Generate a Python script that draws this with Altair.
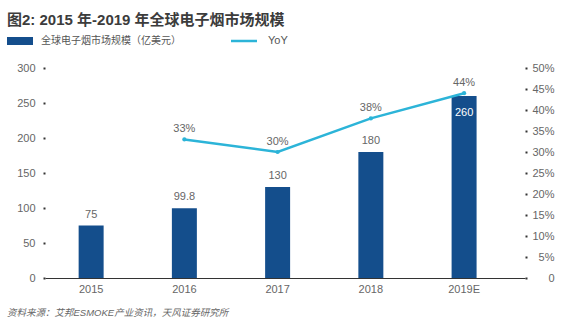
import altair as alt
import pandas as pd

years = ["2015", "2016", "2017", "2018", "2019E"]
market = [75, 99.8, 130, 180, 260]
yoy = [None, 0.33, 0.30, 0.38, 0.44]
bar_labels = ["75", "99.8", "130", "180", "260"]
yoy_labels = ["", "33%", "30%", "38%", "44%"]
left_ticks = [0, 50, 100, 150, 200, 250, 300]
right_ticks = [0, 0.05, 0.1, 0.15, 0.2, 0.25, 0.3, 0.35, 0.4, 0.45, 0.5]

df = pd.DataFrame({"year": years, "market": market, "yoy": yoy,
                   "blab": bar_labels, "ylab": yoy_labels})
df["inside"] = [False, False, False, False, True]

FONT = "Liberation Sans, Noto Sans CJK SC"
CJK = "Noto Sans CJK SC"
BAR = "#144e8c"
LINE = "#2cb4d8"
GRAY = "#666666"

xscale = alt.Scale(domain=years, paddingInner=0.732, paddingOuter=0.44, align=0.41)
xaxis = alt.Axis(title=None, labelAngle=0, ticks=False, domain=True,
                 domainColor="#333333", domainWidth=1, labelColor=GRAY,
                 labelFontSize=11, labelFont=FONT, labelPadding=5)
xenc = alt.X("year:N", scale=xscale, sort=years, axis=xaxis)

yleft = alt.Scale(domain=[0, 300], nice=False)
yright = alt.Scale(domain=[0, 0.5], nice=False)
laxis = alt.Axis(title=None, values=left_ticks, tickCount=7,
                 domain=False, grid=False, tickSize=2, tickWidth=2,
                 tickColor="#333333", labelColor=GRAY, labelFontSize=11,
                 labelFont=FONT, labelPadding=8, labelOverlap=False)
raxis = alt.Axis(title=None, orient="right", values=right_ticks, tickCount=11,
                 labelExpr="datum.value == 0 ? '0' : format(datum.value, '.0%')",
                 domain=False, grid=False, tickSize=2, tickWidth=2,
                 tickColor="#333333", labelColor=GRAY, labelFontSize=11,
                 labelFont=FONT, labelPadding=27, labelAlign="right",
                 labelBound=False, labelOverlap=False)
yl = alt.Y("market:Q", scale=yleft, axis=laxis)
yr = alt.Y("yoy:Q", scale=yright, axis=raxis)

bars = alt.Chart(df).mark_bar(color=BAR).encode(x=xenc, y=yl)

bar_text = alt.Chart(df[~df["inside"]]).mark_text(
    baseline="bottom", dy=-6, fontSize=11, font=FONT, color=GRAY
).encode(x=xenc, y=yl, text="blab:N")

bar_text_in = alt.Chart(df[df["inside"]]).mark_text(
    baseline="top", dy=11, fontSize=11, font=FONT, color="white"
).encode(x=xenc, y=yl, text="blab:N")

left = alt.layer(bars, bar_text, bar_text_in)

ldf = df.dropna(subset=["yoy"])
line = alt.Chart(ldf).mark_line(color=LINE, strokeWidth=2.5,
                                point=alt.OverlayMarkDef(color=LINE, size=18, filled=True)).encode(
    x=xenc, y=yr)
line_text = alt.Chart(ldf).mark_text(baseline="bottom", dy=-5, fontSize=11, font=FONT, color=GRAY).encode(
    x=xenc, y=yr, text="ylab:N")
right = alt.layer(line, line_text)

# Title, legend and source note (decorations)
deco = pd.DataFrame({"k": [0]})
title = alt.Chart(deco).mark_text(
    text="图2: 2015 年-2019 年全球电子烟市场规模", align="left", baseline="alphabetic",
    fontSize=15, fontWeight="bold", font=FONT, color="#3c3c3c"
).encode(x=alt.value(-38), y=alt.value(-43))
leg_rect = alt.Chart(deco).mark_rect(color=BAR).encode(
    x=alt.value(-38), x2=alt.value(-12), y=alt.value(-31), y2=alt.value(-23))
leg_text1 = alt.Chart(deco).mark_text(
    text="全球电子烟市场规模（亿美元）", align="left", baseline="middle",
    fontSize=10, font=CJK, color="#555555"
).encode(x=alt.value(-4), y=alt.value(-27))
leg_line = alt.Chart(deco).mark_rule(color=LINE, strokeWidth=2.5).encode(
    x=alt.value(186), x2=alt.value(212), y=alt.value(-27))
leg_text2 = alt.Chart(deco).mark_text(
    text="YoY", align="left", baseline="middle", fontSize=11, font=FONT, color="#555555"
).encode(x=alt.value(223), y=alt.value(-27))
source = alt.Chart(deco).mark_text(
    text="资料来源：艾邦ESMOKE产业资讯，天风证券研究所", align="left", baseline="middle",
    fontSize=9.5, font=FONT, fontStyle="italic", color=GRAY
).encode(x=alt.value(-38), y=alt.value(35 + 210))

chart = alt.layer(left, right, title, leg_rect, leg_text1, leg_line, leg_text2, source).resolve_scale(
    y="independent"
).properties(
    width=480, height=210,
    autosize=alt.AutoSizeParams(type="none"),
    padding={"left": 45, "top": 68, "right": 47, "bottom": 50},
    background="white",
).configure_view(stroke=None)

chart.save("out.html", embed_options={"renderer": "svg", "actions": False})
